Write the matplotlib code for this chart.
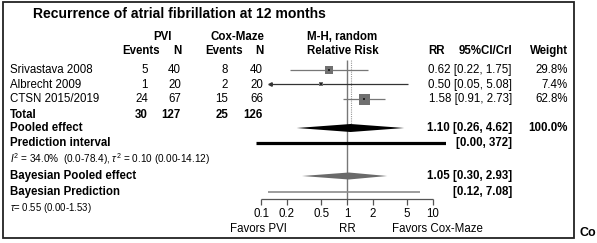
import numpy as np
import matplotlib.pyplot as plt
from matplotlib.patches import Rectangle

plt.rcParams['font.family'] = ['Liberation Sans', 'DejaVu Sans']
plt.rcParams['mathtext.fontset'] = 'custom'
plt.rcParams['mathtext.rm'] = 'Liberation Sans'
plt.rcParams['mathtext.it'] = 'Liberation Sans:italic'

# Data
studies = ['Srivastava 2008', 'Albrecht 2009', 'CTSN 2015/2019']
pvi_events = [5, 1, 24]
pvi_n = [40, 20, 67]
cox_events = [8, 2, 15]
cox_n = [40, 20, 66]
rr = [0.62, 0.50, 1.58]
ci_lo = [0.22, 0.05, 0.91]
ci_hi = [1.75, 5.08, 2.73]
weights = [29.8, 7.4, 62.8]
pooled = (1.10, 0.26, 4.62)
pred_int = (0.00, 372)
bayes_pooled = (1.05, 0.30, 2.93)
bayes_pred = (0.12, 7.08)
tick_vals = [0.1, 0.2, 0.5, 1, 2, 5, 10]
i2_text = r'$I^2$ = 34.0%  (0.0-78.4), $\tau^2$ = 0.10 (0.00-14.12)'
tau_text = r'$\tau$= 0.55 (0.00-1.53)'

# layout (pixel rows)
W, H = 597, 243
study_y = [70, 84.5, 99]
total_y = 115
pooled_y = 128
pred_y = 143
i2_y = 159
bpool_y = 176
bpred_y = 191.5
tau_y = 208
axis_y = 199
fs = 8.3

fig = plt.figure(figsize=(W / 100, H / 100), dpi=100)
tax = fig.add_axes([0, 0, 1, 1])
tax.set_xlim(0, W)
tax.set_ylim(H, 0)
tax.axis('off')

# forest axes: 1 -> x=347px, 86 px per decade
x0, x1 = 256, 446
lo_lim = 10 ** ((x0 - 347) / 86)
hi_lim = 10 ** ((x1 - 347) / 86)
fax = fig.add_axes([x0 / W, 0, (x1 - x0) / W, 1])
fax.set_xscale('log')
fax.set_xlim(lo_lim, hi_lim)
fax.set_ylim(H, 0)
fax.axis('off')
fax.patch.set_alpha(0)

tax.add_patch(Rectangle((2.5, 2), 571.5, 236, fill=False, ec='#222222', lw=1.3))

def t(x, y, s, ha='left', bold=False, size=fs, **kw):
    tax.text(x, y, s, ha=ha, va='center', fontsize=size,
             fontweight='bold' if bold else 'normal', **kw)

t(33, 14, 'Recurrence of atrial fibrillation at 12 months', bold=True, size=10.1)
t(162, 37, 'PVI', ha='center', bold=True)
t(237, 37, 'Cox-Maze', ha='center', bold=True)
t(307, 37, 'M-H, random', bold=True)
t(307, 51, 'Relative Risk', bold=True)
t(160, 51, 'Events', ha='right', bold=True)
t(181, 51, 'N', ha='right', bold=True)
t(243, 51, 'Events', ha='right', bold=True)
t(263, 51, 'N', ha='right', bold=True)
t(428, 51, 'RR', bold=True)
t(512, 51, '95%CI/CrI', ha='right', bold=True)
t(568, 51, 'Weight', ha='right', bold=True)

for i, name in enumerate(studies):
    y = study_y[i]
    t(10, y, name)
    t(148, y, str(pvi_events[i]), ha='right')
    t(181, y, str(pvi_n[i]), ha='right')
    t(228, y, str(cox_events[i]), ha='right')
    t(263, y, str(cox_n[i]), ha='right')
    t(512, y, f'{rr[i]:.2f} [{ci_lo[i]:.2f}, {ci_hi[i]:.2f}]', ha='right')
    t(568, y, f'{weights[i]:.1f}%', ha='right')

t(10, total_y, 'Total', bold=True)
t(148, total_y, str(sum(pvi_events)), ha='right', bold=True)
t(181, total_y, str(sum(pvi_n)), ha='right', bold=True)
t(228, total_y, str(sum(cox_events)), ha='right', bold=True)
t(263, total_y, str(sum(cox_n)), ha='right', bold=True)

t(10, pooled_y, 'Pooled effect', bold=True)
t(512, pooled_y, f'{pooled[0]:.2f} [{pooled[1]:.2f}, {pooled[2]:.2f}]', ha='right', bold=True)
t(568, pooled_y, f'{sum(weights):.1f}%', ha='right', bold=True)
t(10, pred_y, 'Prediction interval', bold=True)
t(512, pred_y, f'[{pred_int[0]:.2f}, {pred_int[1]}]', ha='right', bold=True)
t(10, i2_y, i2_text, size=7.2)
t(10, bpool_y, 'Bayesian Pooled effect', bold=True)
t(512, bpool_y, f'{bayes_pooled[0]:.2f} [{bayes_pooled[1]:.2f}, {bayes_pooled[2]:.2f}]', ha='right', bold=True)
t(10, bpred_y, 'Bayesian Prediction', bold=True)
t(512, bpred_y, f'[{bayes_pred[0]:.2f}, {bayes_pred[1]:.2f}]', ha='right', bold=True)
t(10, tau_y, tau_text, size=6.9)
t(579, 233, 'Co', bold=True, size=9)

# reference lines
fax.vlines(1, 60, axis_y, color='#777777', lw=1.0, zorder=1)
fax.vlines(pooled[0], 60, pooled_y, color='#999999', lw=0.8, ls=(0, (1, 1)), zorder=1)

# studies
arrow_lo = 0.127
for i in range(len(studies)):
    y = study_y[i]
    lo = ci_lo[i]
    col = '#777777' if i != 1 else '#333333'
    if lo < 0.1:
        fax.hlines(y, arrow_lo, ci_hi[i], color=col, lw=0.9, zorder=2)
        fax.plot(arrow_lo, y, marker='<', ms=2.5, color=col, zorder=3)
    else:
        fax.hlines(y, lo, ci_hi[i], color=col, lw=0.9, zorder=2)
    side = 11 * np.sqrt(weights[i] / max(weights)) * 0.72
    fax.scatter(rr[i], y, marker='s', s=side ** 2, color='#707070', lw=0, zorder=3)
    fax.scatter(rr[i], y, marker='s', s=3, color='#222222', lw=0, zorder=4)

# pooled diamond
est, lo, hi = pooled
fax.fill([lo, est, hi, est], [pooled_y, pooled_y - 4, pooled_y, pooled_y + 4],
         color='black', lw=0, zorder=3)
# prediction interval (clipped to axes)
fax.hlines(pred_y, max(pred_int[0], lo_lim), min(pred_int[1], hi_lim),
           color='black', lw=2.3, zorder=3)

# bayesian
est, lo, hi = bayes_pooled
fax.fill([lo, est, hi, est], [bpool_y, bpool_y - 3.5, bpool_y, bpool_y + 3.5],
         color='#6a6a6a', lw=0, zorder=3)
fax.hlines(bpred_y, bayes_pred[0], bayes_pred[1], color='#8c8c8c', lw=1.2, zorder=3)

# x axis
fax.hlines(axis_y, tick_vals[0], tick_vals[-1], color='#555555', lw=0.9)
fax.vlines(tick_vals, axis_y, axis_y + 6, color='#555555', lw=0.9)
for v in tick_vals:
    fax.text(v, 213.5, f'{v:g}', ha='center', va='center', fontsize=fs)
fax.text(10 ** ((258 - 347) / 86), 229, 'Favors PVI', ha='center', va='center', fontsize=fs)
fax.text(1, 229, 'RR', ha='center', va='center', fontsize=fs)
fax.text(10 ** ((437 - 347) / 86), 229, 'Favors Cox-Maze', ha='center', va='center',
         fontsize=fs, clip_on=False)

fig.savefig('out.png', dpi=100)
